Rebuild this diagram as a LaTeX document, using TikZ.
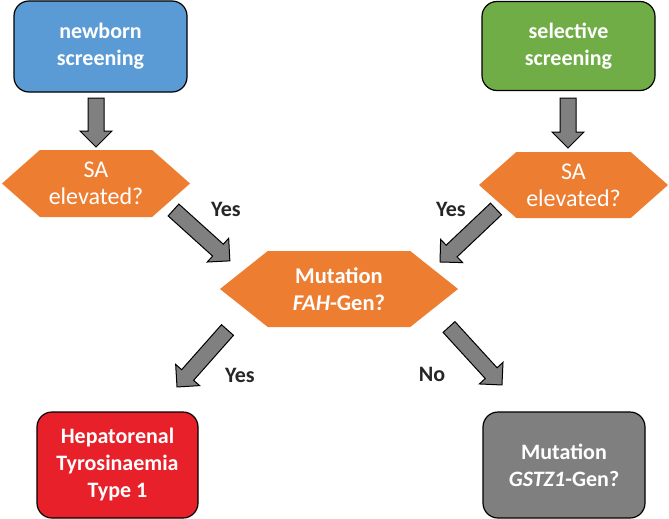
\documentclass[tikz,border=0pt]{standalone}
\usepackage{fontspec}
\setmainfont{Carlito}
\usetikzlibrary{shapes.symbols,calc}

\definecolor{nbblue}{HTML}{5B9BD5}
\definecolor{selgreen}{HTML}{70AD47}
\definecolor{saorange}{HTML}{ED7D31}
\definecolor{htred}{HTML}{E8202A}
\definecolor{genegray}{HTML}{7F7F7F}
\definecolor{arrowgray}{HTML}{808080}
\definecolor{labelgray}{HTML}{262626}

% fat block arrow from #1 to #2
\newcommand{\fatarrow}[2]{%
  \path let \p1=(#1), \p2=(#2) in
    \pgfextra{\pgfmathsetmacro\fatang{atan2(\y2-\y1,\x2-\x1)}%
              \pgfmathsetmacro\fatlen{veclen(\x2-\x1,\y2-\y1)}%
              \xdef\fatang{\fatang}\xdef\fatlen{\fatlen}};
  \filldraw[fat arrow, shift={(#1)}, rotate=\fatang]
    (0pt,-8pt) -- ({\fatlen pt-16pt},-8pt) -- ({\fatlen pt-16pt},-16pt) -- (\fatlen pt,0pt)
    -- ({\fatlen pt-16pt},16pt) -- ({\fatlen pt-16pt},8pt) -- (0pt,8pt) -- cycle;
}

\begin{document}
\begin{tikzpicture}[x=1pt,y=-1pt]
            \tikzstyle{start box}=[draw=black,line width=1.2pt,rounded corners=15pt,align=center,text=white,font=\fontsize{22}{27}\selectfont\bfseries,inner sep=0pt]
            \tikzstyle{question}=[signal,signal to=east and west,fill=saorange,align=center,text=white,inner sep=0pt,font=\fontsize{24}{27}\selectfont]
            \tikzstyle{fat arrow}=[draw=black,line width=1pt,fill=arrowgray,line join=miter]
            \tikzstyle{answer}=[text=labelgray,font=\fontsize{22}{24}\selectfont\bfseries]
            \useasboundingbox (0,0) rectangle (669,519);

            \node[start box,fill=nbblue,minimum width=173pt,minimum height=91pt] (nb) at (100.5,46.5) {newborn\\screening};
            \node[start box,fill=selgreen,minimum width=173pt,minimum height=89pt] (sel) at (568.5,46) {selective\\screening};
            \node[question,signal pointer angle=83,minimum width=188pt,minimum height=67pt] (sa1) at (96,183.5) {SA\\elevated?};
            \node[question,signal pointer angle=83,minimum width=189pt,minimum height=66pt] (sa2) at (573.5,185) {SA\\elevated?};
            \node[question,signal pointer angle=77,minimum width=238pt,minimum height=76pt,font=\fontsize{22.5}{27}\selectfont\bfseries] (fah) at (339,289) {Mutation\\\textit{FAH}-Gen?};
            \node[start box,fill=htred,minimum width=161pt,minimum height=106pt] (ht1) at (117.5,465) {Hepatorenal\\Tyrosinaemia\\Type 1};
            \node[start box,fill=genegray,minimum width=162pt,minimum height=106pt] (gstz) at (564,465) {Mutation\\\textit{GSTZ1}-Gen?};

            \coordinate (a1s) at (96,98);    \coordinate (a1e) at (96,147);
            \coordinate (a2s) at (568,98);   \coordinate (a2e) at (568,148);
            \coordinate (a3s) at (173.5,210); \coordinate (a3e) at (230,261);
            \coordinate (a4s) at (496,209);  \coordinate (a4e) at (440,262);
            \coordinate (a5s) at (227.5,330); \coordinate (a5e) at (177,387);
            \coordinate (a6s) at (449,327);  \coordinate (a6e) at (502,385);

            \fatarrow{a1s}{a1e}
            \fatarrow{a2s}{a2e}
            \fatarrow{a3s}{a3e}
            \fatarrow{a4s}{a4e}
            \fatarrow{a5s}{a5e}
            \fatarrow{a6s}{a6e}

            \node[answer] (y1) at (226,209) {Yes};
            \node[answer] (y2) at (451,209) {Yes};
            \node[answer] (y3) at (240,375) {Yes};
            \node[answer] (n1) at (432,374) {No};
        \end{tikzpicture}
\end{document}
